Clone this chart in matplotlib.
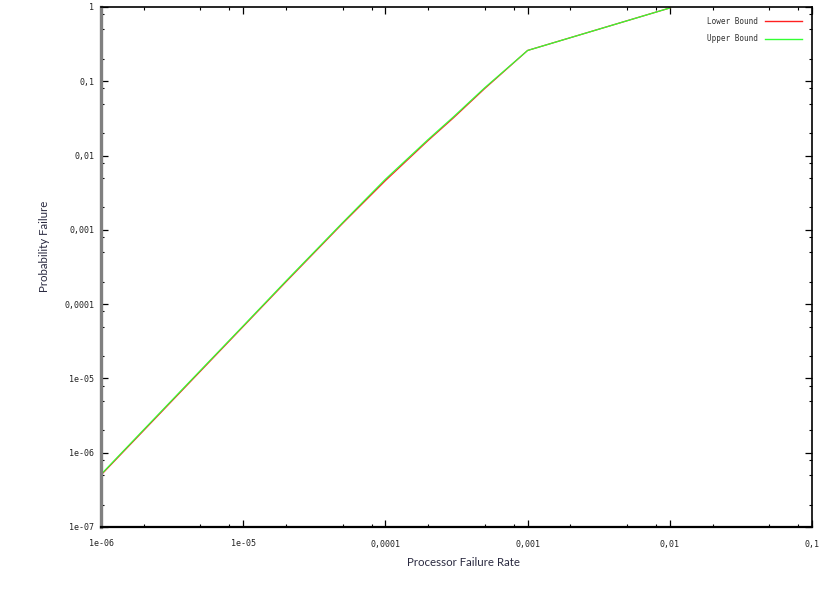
import matplotlib
matplotlib.use("Agg")
import matplotlib.pyplot as plt
from matplotlib.ticker import FixedLocator, NullFormatter

# Data
rate = [1e-6, 2e-6, 5e-6, 1e-5, 2e-5, 5e-5, 1e-4, 2e-4, 3e-4, 5e-4, 1e-3, 1e-2]
lower = [5.0e-7, 2.0e-6, 1.25e-5, 5.0e-5, 2.0e-4, 1.22e-3, 4.6e-3, 1.6e-2, 3.2e-2, 8.0e-2, 2.6e-1, 0.97]
upper = [5.1e-7, 2.05e-6, 1.28e-5, 5.1e-5, 2.05e-4, 1.25e-3, 4.8e-3, 1.65e-2, 3.3e-2, 8.2e-2, 2.6e-1, 0.97]

xticks = [1e-6, 1e-5, 1e-4, 1e-3, 1e-2, 1e-1]
xticklabels = ["1e-06", "1e-05", "0,0001", "0,001", "0,01", "0,1"]
yticks = [1e-7, 1e-6, 1e-5, 1e-4, 1e-3, 1e-2, 1e-1, 1]
yticklabels = ["1e-07", "1e-06", "1e-05", "0,0001", "0,001", "0,01", "0,1", "1"]

W, H = 830, 589
fig = plt.figure(figsize=(W / 100, H / 100), dpi=100)
L, R, T, B = 101, 812, 7, 527
ax = fig.add_axes([L / W, 1 - B / H, (R - L) / W, (B - T) / H])

ax.plot(rate, lower, color="#ff2020", lw=0.9, label="Lower Bound")
ax.plot(rate, upper, color="#33ff33", lw=0.9, label="Upper Bound")

ax.set_xscale("log")
ax.set_yscale("log")
ax.set_xlim(1e-6, 1e-1)
ax.set_ylim(1e-7, 1)

ax.xaxis.set_major_locator(FixedLocator(xticks))
ax.yaxis.set_major_locator(FixedLocator(yticks))
ax.set_xticklabels(xticklabels)
ax.set_yticklabels(yticklabels)

def minors(lo, hi):
    out = []
    d = lo
    while d < hi:
        for m in (2, 5, 8):
            v = d * m
            if v < hi:
                out.append(v)
        d *= 10
    return out

ax.xaxis.set_minor_locator(FixedLocator(minors(1e-6, 1e-1)))
ax.yaxis.set_minor_locator(FixedLocator(minors(1e-7, 1)))
ax.xaxis.set_minor_formatter(NullFormatter())
ax.yaxis.set_minor_formatter(NullFormatter())

ax.tick_params(which="major", direction="in", length=5, width=0.9, top=True, right=True,
               labelsize=6, color="black", labelcolor="#222222")
ax.tick_params(which="minor", direction="in", length=2.5, width=0.8, top=True, right=True, color="black")
ax.tick_params(axis="x", which="major", pad=9)
ax.tick_params(axis="y", which="major", pad=5)
for lab in ax.get_xticklabels() + ax.get_yticklabels():
    lab.set_family("DejaVu Sans Mono")

for s in ["top", "bottom", "right"]:
    ax.spines[s].set_color("black")
ax.spines["bottom"].set_linewidth(1.6)
ax.spines["top"].set_linewidth(1.2)
ax.spines["right"].set_linewidth(1.2)
ax.spines["left"].set_color("#808080")
ax.spines["left"].set_linewidth(2.4)

leg = ax.legend(loc="upper right", frameon=False, handlelength=4.8,
                markerfirst=False, labelspacing=1.1, borderaxespad=0.9, handletextpad=1.0,
                prop={"family": "DejaVu Sans Mono", "size": 5.5})
for t in leg.get_texts():
    t.set_color("#333333")
for h in leg.get_lines():
    h.set_linewidth(1.0)

fig.text(463 / W, 1 - 563 / H, "Processor Failure Rate", ha="center", va="center",
         fontsize=8.3, family="Lato", color="#2a2a40")
fig.text(44 / W, 1 - 246 / H, "Probability Failure", ha="center", va="center",
         rotation=90, fontsize=8.3, family="Lato", color="#2a2a40")

fig.savefig("out.png", dpi=100)
